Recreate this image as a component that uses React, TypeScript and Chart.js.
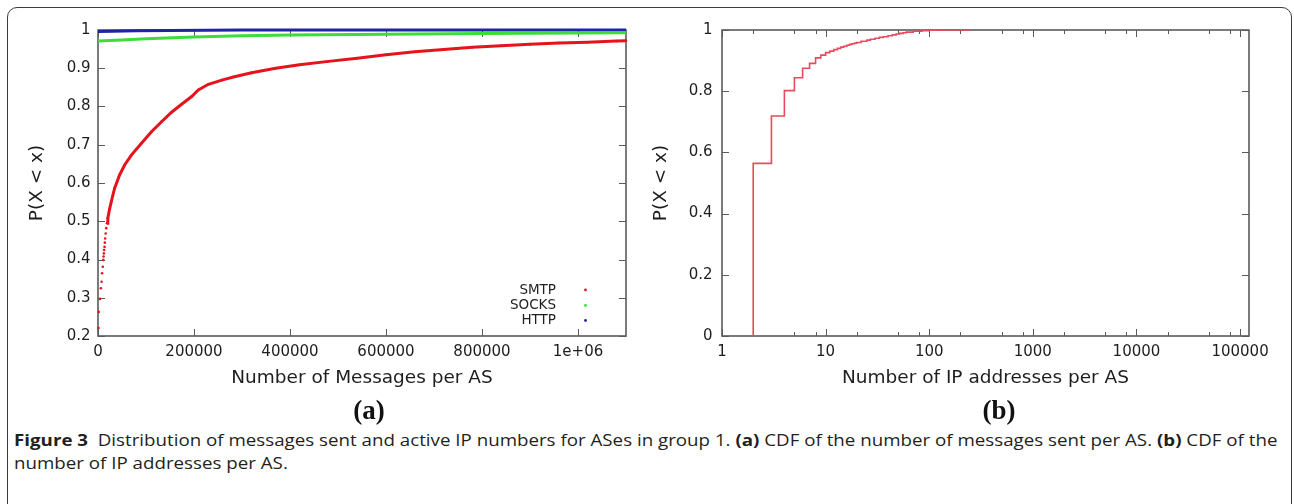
import React, { useEffect, useLayoutEffect, useRef } from "react";
import { Chart, registerables } from "chart.js";

Chart.register(...registerables);

// ---------- Panel (a): messages per AS ----------
const smtpMessages = [
  1000, 1500, 4000, 6000, 7500, 8500, 10000, 11000, 11600, 12200, 12900, 13600,
  14200, 14900, 16000, 17100, 18800, 20500, 24000, 27600, 34500, 45000, 55500,
  69500, 90500, 111400, 132400, 153300, 174200, 195200, 209000, 230000, 258000,
  282000, 320000, 370000, 420000, 480000, 540000, 600000, 660000, 720000, 780000,
  840000, 900000, 960000, 1020000, 1080000, 1100000,
];
const smtpCdf = [
  0.221, 0.263, 0.297, 0.325, 0.342, 0.364, 0.381, 0.399, 0.408, 0.416, 0.425, 0.433,
  0.444, 0.455, 0.468, 0.482, 0.495, 0.508, 0.531, 0.551, 0.586, 0.621, 0.647,
  0.673, 0.704, 0.734, 0.76, 0.785, 0.806, 0.826, 0.843, 0.858, 0.869,
  0.877, 0.888, 0.9, 0.909, 0.918, 0.926, 0.935, 0.943, 0.949, 0.955,
  0.959, 0.963, 0.966, 0.968, 0.971, 0.972,
];
const socksMessages = [0, 50000, 100000, 200000, 300000, 400000, 600000, 800000, 1000000, 1100000];
const socksCdf = [0.971, 0.974, 0.977, 0.982, 0.985, 0.987, 0.989, 0.991, 0.992, 0.993];
const httpMessages = [0, 30000, 80000, 150000, 300000, 600000, 1100000];
const httpCdf = [0.996, 0.997, 0.998, 0.999, 1, 1, 1];

const msgTicks = [0, 200000, 400000, 600000, 800000, 1000000];
const msgTickLabels = ["0", "200000", "400000", "600000", "800000", "1e+06"];
const cdfTicksA = [0.2, 0.3, 0.4, 0.5, 0.6, 0.7, 0.8, 0.9, 1];
const cdfTickLabelsA = ["0.2", "0.3", "0.4", "0.5", "0.6", "0.7", "0.8", "0.9", "1"];

// ---------- Panel (b): IP addresses per AS ----------
const ipCounts = [
  2, 3, 4, 5, 6, 7, 8, 9, 10, 11, 12, 13, 14, 15, 16, 17, 18, 19, 20, 22, 25, 27, 30,
  33, 36, 40, 44, 48, 52, 56, 60, 70, 85, 100, 130, 250,
];
const ipCdf = [
  0.564, 0.719, 0.802, 0.844, 0.875, 0.891, 0.909, 0.918, 0.926, 0.931, 0.936, 0.94,
  0.944, 0.947, 0.95, 0.953, 0.955, 0.957, 0.959, 0.963, 0.967, 0.97, 0.973,
  0.976, 0.978, 0.981, 0.984, 0.987, 0.989, 0.991, 0.993, 0.996, 0.998,
  0.999, 1, 1,
];
const ipTicks = [1, 10, 100, 1000, 10000, 100000];
const ipTickLabels = ["1", "10", "100", "1000", "10000", "100000"];
const ipMinorTicks = [2, 5, 8, 20, 50, 80, 200, 500, 800, 2000, 5000, 8000, 20000, 50000, 80000];
const cdfTicksB = [0, 0.2, 0.4, 0.6, 0.8, 1];
const cdfTickLabelsB = ["0", "0.2", "0.4", "0.6", "0.8", "1"];

const FONT = '"DejaVu Sans", sans-serif';
const TEXT = "#1e1e1e";
const AXIS = "#5a5a5a";
const SMTP_RED = "#e5141c";
const SOCKS_GREEN = "#3ddc3a";
const HTTP_BLUE = "#1f24a6";
const IP_RED = "#e94a5c";

function boxPlugin(id: string, xMajor: number[], yMajor: number[], xMinor: number[]) {
  return {
    id,
    beforeDatasetsDraw(chart: any) {
      const { ctx, chartArea: a, scales } = chart;
      const x = scales.x;
      const y = scales.y;
      ctx.save();
      ctx.strokeStyle = AXIS;
      ctx.lineWidth = 1;
      ctx.beginPath();
      const major = 7;
      const minor = 4;
      for (const v of xMajor) {
        const px = Math.round(x.getPixelForValue(v)) + 0.5;
        ctx.moveTo(px, a.bottom);
        ctx.lineTo(px, a.bottom - major);
        ctx.moveTo(px, a.top);
        ctx.lineTo(px, a.top + major);
      }
      for (const v of xMinor) {
        const px = Math.round(x.getPixelForValue(v)) + 0.5;
        ctx.moveTo(px, a.bottom);
        ctx.lineTo(px, a.bottom - minor);
        ctx.moveTo(px, a.top);
        ctx.lineTo(px, a.top + minor);
      }
      for (const v of yMajor) {
        const py = Math.round(y.getPixelForValue(v)) + 0.5;
        ctx.moveTo(a.left, py);
        ctx.lineTo(a.left + major, py);
        ctx.moveTo(a.right, py);
        ctx.lineTo(a.right - major, py);
      }
      ctx.stroke();
      ctx.lineWidth = 1.6;
      ctx.strokeRect(a.left, a.top, a.right - a.left, a.bottom - a.top);
      ctx.restore();
    },
  };
}

const insideLegend = {
  id: "insideLegend",
  afterDatasetsDraw(chart: any) {
    const { ctx, chartArea: a } = chart;
    const rowOffsets = [46, 30.5, 15.5];
    ctx.save();
    ctx.font = `13.5px ${FONT}`;
    ctx.textAlign = "right";
    ctx.textBaseline = "middle";
    chart.data.datasets.forEach((ds: any, i: number) => {
      const yy = a.bottom - rowOffsets[i];
      ctx.fillStyle = TEXT;
      ctx.fillText(ds.label, a.right - 70, yy);
      ctx.fillStyle = ds.borderColor;
      ctx.beginPath();
      ctx.arc(a.right - 40.5, yy, 1.4, 0, Math.PI * 2);
      ctx.fill();
    });
    ctx.restore();
  },
};

function tickFont() {
  return { family: FONT, size: 15 };
}
function titleFont() {
  return { family: FONT, size: 18.5 };
}

export default function App() {
  const refA = useRef<HTMLCanvasElement>(null);
  const refB = useRef<HTMLCanvasElement>(null);
  const capRef = useRef<HTMLDivElement>(null);
  const line1Ref = useRef<HTMLSpanElement>(null);

  useLayoutEffect(() => {
    const fit = () => {
      const cap = capRef.current;
      const l1 = line1Ref.current;
      if (!cap || !l1) return;
      const w = l1.offsetWidth;
      if (w > 0) cap.style.transform = `scaleX(${1264 / w})`;
    };
    fit();
    if ((document as any).fonts && (document as any).fonts.ready) {
      (document as any).fonts.ready.then(fit);
    }
  }, []);

  useEffect(() => {
    const chartA = new Chart(refA.current as HTMLCanvasElement, {
      type: "scatter",
      data: {
        datasets: [
          {
            label: "SMTP",
            data: smtpMessages.map((m, i) => ({ x: m, y: smtpCdf[i] })),
            showLine: true,
            borderColor: SMTP_RED,
            backgroundColor: SMTP_RED,
            borderWidth: 3,
            pointRadius: 1.3,
            pointBorderWidth: 0,
            pointBackgroundColor: SMTP_RED,
            segment: {
              borderColor: (c: any) => (c.p0.parsed.y < 0.49 ? "rgba(0,0,0,0)" : SMTP_RED),
            },
            clip: 4,
          } as any,
          {
            label: "SOCKS",
            data: socksMessages.map((m, i) => ({ x: m, y: socksCdf[i] })),
            showLine: true,
            borderColor: SOCKS_GREEN,
            backgroundColor: SOCKS_GREEN,
            borderWidth: 3,
            pointRadius: 0,
            clip: 4,
          } as any,
          {
            label: "HTTP",
            data: httpMessages.map((m, i) => ({ x: m, y: httpCdf[i] })),
            showLine: true,
            borderColor: HTTP_BLUE,
            backgroundColor: HTTP_BLUE,
            borderWidth: 3,
            pointRadius: 0,
            clip: 4,
          } as any,
        ],
      },
      options: {
        animation: false,
        responsive: false,
        maintainAspectRatio: false,
        layout: { padding: { left: 0, top: 30, right: 14, bottom: 0 } },
        plugins: { legend: { display: false }, tooltip: { enabled: false } },
        scales: {
          x: {
            type: "linear",
            min: 0,
            max: 1100000,
            grid: { display: false, drawTicks: false },
            border: { display: false },
            afterBuildTicks: (s: any) => {
              s.ticks = msgTicks.map((v) => ({ value: v }));
            },
            afterFit: (s: any) => {
              s.height = 64;
            },
            ticks: {
              autoSkip: false,
              maxRotation: 0,
              padding: 7,
              color: TEXT,
              font: tickFont(),
              callback: (_v: any, i: number) => msgTickLabels[i],
            },
            title: {
              display: true,
              text: "Number of Messages per AS",
              color: TEXT,
              font: titleFont(),
              padding: { top: 0, bottom: 11 },
            },
          },
          y: {
            type: "linear",
            min: 0.2,
            max: 1,
            grid: { display: false, drawTicks: false },
            border: { display: false },
            afterBuildTicks: (s: any) => {
              s.ticks = cdfTicksA.map((v) => ({ value: v }));
            },
            afterFit: (s: any) => {
              s.width = 98;
            },
            ticks: {
              autoSkip: false,
              padding: 7.5,
              color: TEXT,
              font: tickFont(),
              callback: (_v: any, i: number) => cdfTickLabelsA[i],
            },
            title: {
              display: true,
              text: "P(X < x)",
              color: TEXT,
              font: titleFont(),
              padding: { top: 26, bottom: 0 },
            },
          },
        },
      } as any,
      plugins: [boxPlugin("boxA", msgTicks, cdfTicksA, []), insideLegend],
    });

    const chartB = new Chart(refB.current as HTMLCanvasElement, {
      type: "scatter",
      data: {
        datasets: [
          {
            label: "IP",
            data: [{ x: ipCounts[0], y: 0 }, ...ipCounts.map((c, i) => ({ x: c, y: ipCdf[i] }))],
            showLine: true,
            stepped: "before",
            borderColor: IP_RED,
            backgroundColor: IP_RED,
            borderWidth: 1.6,
            pointRadius: 0,
            clip: 3,
          } as any,
        ],
      },
      options: {
        animation: false,
        responsive: false,
        maintainAspectRatio: false,
        layout: { padding: { left: 0, top: 30, right: 45, bottom: 0 } },
        plugins: { legend: { display: false }, tooltip: { enabled: false } },
        scales: {
          x: {
            type: "logarithmic",
            min: 1,
            max: 122000,
            grid: { display: false, drawTicks: false },
            border: { display: false },
            afterBuildTicks: (s: any) => {
              s.ticks = ipTicks.map((v) => ({ value: v }));
            },
            afterFit: (s: any) => {
              s.height = 64;
            },
            ticks: {
              autoSkip: false,
              maxRotation: 0,
              padding: 7,
              color: TEXT,
              font: tickFont(),
              callback: (_v: any, i: number) => ipTickLabels[i],
            },
            title: {
              display: true,
              text: "Number of IP addresses per AS",
              color: TEXT,
              font: titleFont(),
              padding: { top: 0, bottom: 11 },
            },
          },
          y: {
            type: "linear",
            min: 0,
            max: 1,
            grid: { display: false, drawTicks: false },
            border: { display: false },
            afterBuildTicks: (s: any) => {
              s.ticks = cdfTicksB.map((v) => ({ value: v }));
            },
            afterFit: (s: any) => {
              s.width = 82;
            },
            ticks: {
              autoSkip: false,
              padding: 9.5,
              color: TEXT,
              font: tickFont(),
              callback: (_v: any, i: number) => cdfTickLabelsB[i],
            },
            title: {
              display: true,
              text: "P(X < x)",
              color: TEXT,
              font: titleFont(),
              padding: { top: 10, bottom: 0 },
            },
          },
        },
      } as any,
      plugins: [boxPlugin("boxB", ipTicks, cdfTicksB, ipMinorTicks)],
    });

    return () => {
      chartA.destroy();
      chartB.destroy();
    };
  }, []);

  const panelLabel = (cx: number): React.CSSProperties => ({
    position: "absolute",
    left: cx - 40,
    width: 80,
    top: 396,
    textAlign: "center",
    fontFamily: '"Liberation Serif", "Times New Roman", serif',
    fontWeight: 700,
    fontSize: 27,
    lineHeight: "28px",
    color: "#111",
  });

  return (
    <div
      style={{
        position: "fixed",
        left: 0,
        top: 0,
        width: 1294,
        height: 504,
        overflow: "hidden",
        background: "#ffffff",
      }}
    >
      <div
        style={{
          position: "absolute",
          left: 7,
          top: 7,
          width: 1285,
          height: 540,
          border: "1.5px solid #3c3c3c",
          borderRadius: 10,
          boxSizing: "border-box",
        }}
      />
      <canvas ref={refA} width={640} height={400} style={{ position: "absolute", left: 0, top: 0 }} />
      <canvas ref={refB} width={654} height={400} style={{ position: "absolute", left: 640, top: 0 }} />
      <div style={panelLabel(369)}>(a)</div>
      <div style={panelLabel(999)}>(b)</div>
      <div
        ref={capRef}
        style={{
          position: "absolute",
          left: 14,
          top: 429,
          fontFamily: '"Open Sans", sans-serif',
          fontSize: 15.5,
          lineHeight: "23px",
          color: "#231f20",
          whiteSpace: "nowrap",
          transformOrigin: "0 0",
        }}
      >
        <span ref={line1Ref}>
          <b>Figure 3</b>
          {"\u00a0 Distribution of messages sent and active IP numbers for ASes in group 1. "}
          <b>(a)</b>
          {" CDF of the number of messages sent per AS. "}
          <b>(b)</b>
          {" CDF of the"}
        </span>
        <br />
        <span>number of IP addresses per AS.</span>
      </div>
    </div>
  );
}
